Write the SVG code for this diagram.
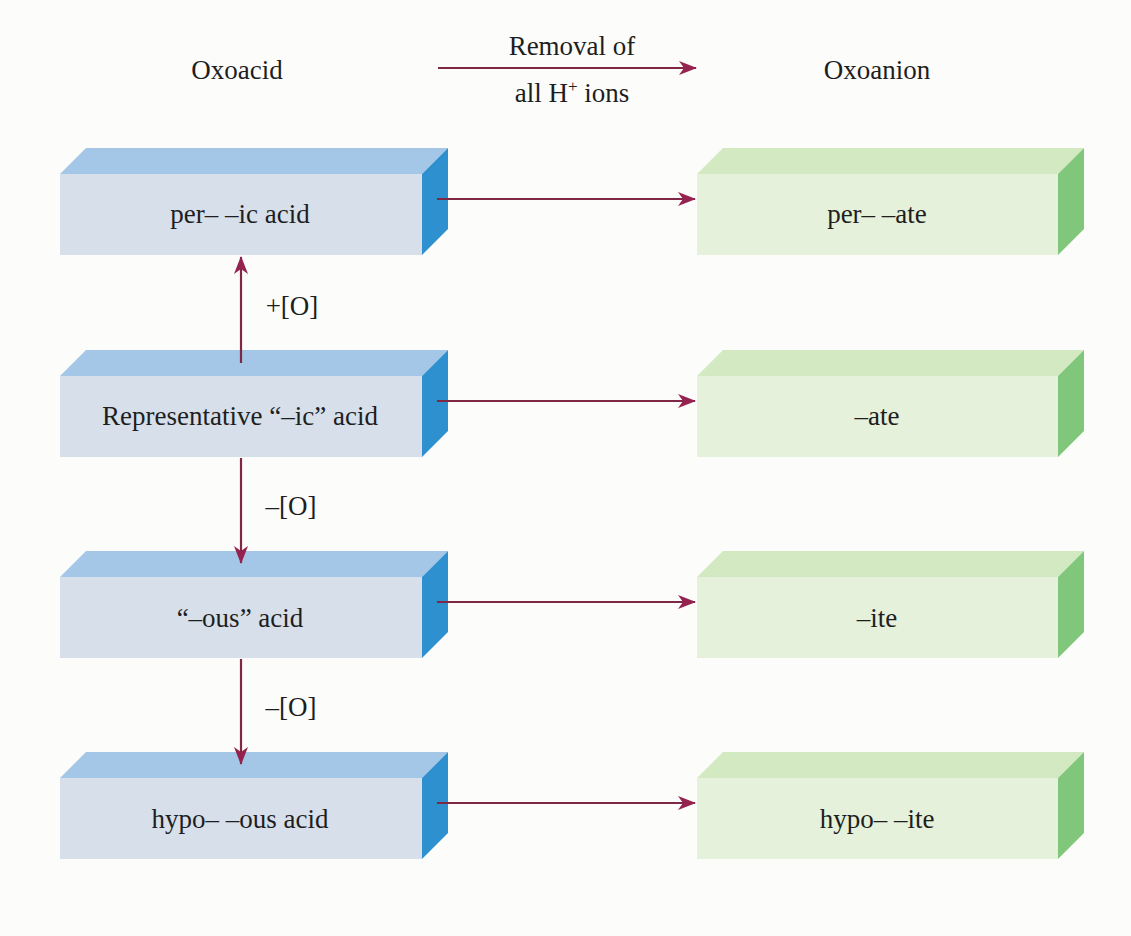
<svg xmlns="http://www.w3.org/2000/svg" width="1131" height="936" viewBox="0 0 1131 936">
<defs>
<style>
.t{font-family:"Liberation Serif","Times New Roman",serif;font-size:27px;fill:#1e1e1e;text-anchor:middle}
.af{fill:#d7dfea}.at{fill:#a4c7e7}.as{fill:#2f90d0}
.bf{fill:#e5f1da}.bt{fill:#d3e9c1}.bs{fill:#80c77b}
.c{stroke:#7e2846;stroke-width:2.2;fill:none}
</style>
<marker id="ah" markerWidth="18" markerHeight="14" refX="17" refY="7" orient="auto" markerUnits="userSpaceOnUse">
<path d="M0,0 L18,7 L0,14 L5,7 Z" fill="#95234f"/>
</marker>
</defs>
<rect width="1131" height="936" fill="#fcfcfa"/>
<g id="headers">
<text class="t" x="237" y="79">Oxoacid</text>
<text class="t" x="877" y="79">Oxoanion</text>
<text class="t" x="572" y="55">Removal of</text>
<text class="t" x="572" y="102">all H<tspan dy="-10" font-size="17">+</tspan><tspan dy="10"> ions</tspan></text>
</g>
<g id="acid-per">
<polygon class="at" points="60,174 86,148 448,148 422,174"/>
<polygon class="as" points="422,174 448,148 448,229 422,255"/>
<rect class="af" x="60" y="174" width="362" height="81"/>
<text class="t" x="240" y="223">per– –ic acid</text>
</g>
<g id="acid-ic">
<polygon class="at" points="60,376 86,350 448,350 422,376"/>
<polygon class="as" points="422,376 448,350 448,431 422,457"/>
<rect class="af" x="60" y="376" width="362" height="81"/>
<text class="t" x="240" y="425">Representative “–ic” acid</text>
</g>
<g id="acid-ous">
<polygon class="at" points="60,577 86,551 448,551 422,577"/>
<polygon class="as" points="422,577 448,551 448,632 422,658"/>
<rect class="af" x="60" y="577" width="362" height="81"/>
<text class="t" x="240" y="627">“–ous” acid</text>
</g>
<g id="acid-hypo">
<polygon class="at" points="60,778 86,752 448,752 422,778"/>
<polygon class="as" points="422,778 448,752 448,833 422,859"/>
<rect class="af" x="60" y="778" width="362" height="81"/>
<text class="t" x="240" y="828">hypo– –ous acid</text>
</g>
<g id="anion-per">
<polygon class="bt" points="697,174 723,148 1084,148 1058,174"/>
<polygon class="bs" points="1058,174 1084,148 1084,229 1058,255"/>
<rect class="bf" x="697" y="174" width="361" height="81"/>
<text class="t" x="877" y="223">per– –ate</text>
</g>
<g id="anion-ate">
<polygon class="bt" points="697,376 723,350 1084,350 1058,376"/>
<polygon class="bs" points="1058,376 1084,350 1084,431 1058,457"/>
<rect class="bf" x="697" y="376" width="361" height="81"/>
<text class="t" x="877" y="425">–ate</text>
</g>
<g id="anion-ite">
<polygon class="bt" points="697,577 723,551 1084,551 1058,577"/>
<polygon class="bs" points="1058,577 1084,551 1084,632 1058,658"/>
<rect class="bf" x="697" y="577" width="361" height="81"/>
<text class="t" x="877" y="627">–ite</text>
</g>
<g id="anion-hypo">
<polygon class="bt" points="697,778 723,752 1084,752 1058,778"/>
<polygon class="bs" points="1058,778 1084,752 1084,833 1058,859"/>
<rect class="bf" x="697" y="778" width="361" height="81"/>
<text class="t" x="877" y="828">hypo– –ite</text>
</g>
<g id="connectors">
<line class="c" x1="438" y1="68" x2="696" y2="68" marker-end="url(#ah)"/>
<line class="c" x1="437" y1="199" x2="695" y2="199" marker-end="url(#ah)"/>
<line class="c" x1="437" y1="401" x2="695" y2="401" marker-end="url(#ah)"/>
<line class="c" x1="437" y1="602" x2="695" y2="602" marker-end="url(#ah)"/>
<line class="c" x1="437" y1="803" x2="695" y2="803" marker-end="url(#ah)"/>
<line class="c" x1="241" y1="363" x2="241" y2="257" marker-end="url(#ah)"/>
<line class="c" x1="241" y1="458" x2="241" y2="563" marker-end="url(#ah)"/>
<line class="c" x1="241" y1="659" x2="241" y2="764" marker-end="url(#ah)"/>
<text class="t" x="292" y="315">+[O]</text>
<text class="t" x="291" y="515">–[O]</text>
<text class="t" x="291" y="716">–[O]</text>
</g>
</svg>
